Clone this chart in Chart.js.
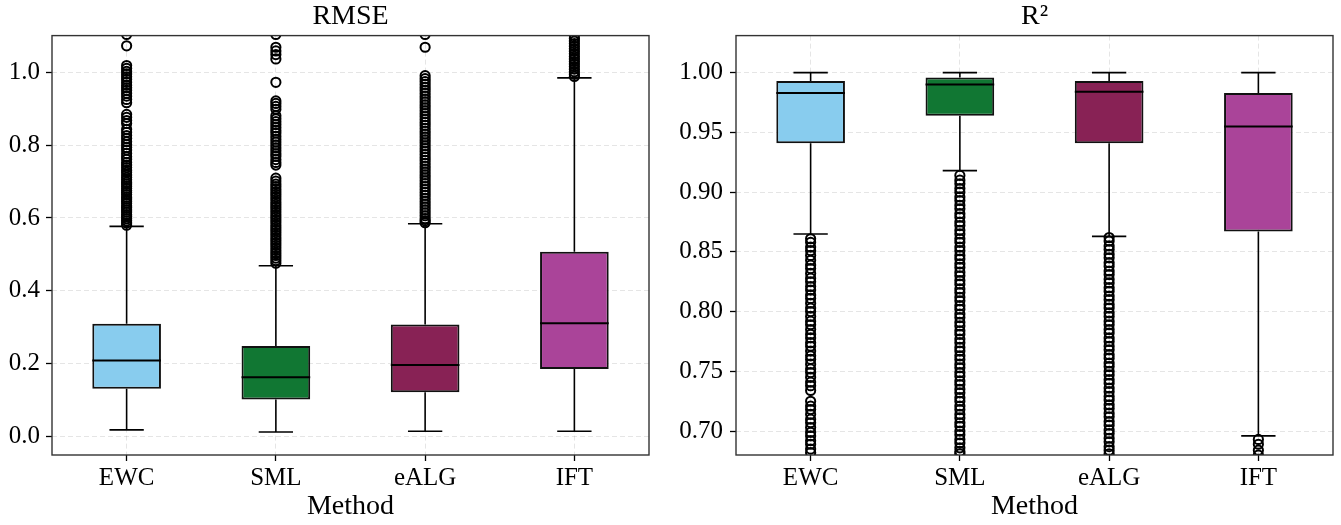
<!DOCTYPE html>
<html>
<head>
<meta charset="utf-8">
<script src="https://cdn.jsdelivr.net/npm/chart.js@4.4.0/dist/chart.umd.min.js"></script>
<style>
  body { margin: 0; background: #fff; }
  #wrap { position: relative; width: 1341px; height: 525px; }
  canvas { position: absolute; top: 0; }
  #rmse { left: 0; }
  #r2 { left: 660px; }
</style>
</head>
<body>
<div id="wrap">
  <canvas id="rmse" width="660" height="525"></canvas>
  <canvas id="r2" width="681" height="525"></canvas>
</div>
<script>
const methods = ['EWC', 'SML', 'eALG', 'IFT'];
const boxColors = ['#88CCEE', '#117733', '#882255', '#AA4499'];

// RMSE box stats
const rmseQ1 = [0.132, 0.102, 0.122, 0.186];
const rmseQ3 = [0.310, 0.249, 0.308, 0.507];
const rmseMedian = [0.209, 0.163, 0.197, 0.311];
const rmseLow = [0.019, 0.013, 0.015, 0.015];
const rmseHigh = [0.577, 0.469, 0.584, 0.984];
const rmseTicks = [0.0, 0.2, 0.4, 0.6, 0.8, 1.0];

const rmseOutEWC = [1.103, 1.072, 1.018, 1.010, 1.002, 0.995, 0.987, 0.980, 0.972, 0.964, 0.957, 0.950, 0.942, 0.934, 0.925, 0.916,
  0.884, 0.876, 0.867, 0.859, 0.843, 0.835, 0.826, 0.818, 0.809, 0.801, 0.793, 0.786, 0.777, 0.768, 0.761, 0.752, 0.745, 0.738,
  0.731, 0.725, 0.718, 0.711, 0.705, 0.698, 0.693, 0.687, 0.681, 0.675, 0.670, 0.664, 0.657, 0.652, 0.646, 0.640, 0.633, 0.628,
  0.622, 0.616, 0.609, 0.604, 0.598, 0.592, 0.586, 0.580];
const rmseOutSML = [1.103, 1.068, 1.058, 1.048, 1.036, 0.972, 0.921, 0.914, 0.906, 0.898, 0.880, 0.872, 0.864, 0.856, 0.848,
  0.840, 0.833, 0.824, 0.816, 0.808, 0.800, 0.792, 0.784, 0.776, 0.769, 0.760, 0.752, 0.745, 0.709, 0.701, 0.693, 0.686, 0.679,
  0.672, 0.665, 0.658, 0.651, 0.644, 0.637, 0.630, 0.623, 0.616, 0.609, 0.602, 0.595, 0.588, 0.581, 0.574, 0.567, 0.560, 0.553,
  0.546, 0.539, 0.532, 0.525, 0.518, 0.511, 0.504, 0.497, 0.490, 0.483, 0.476];
const rmseOutEALG = [1.103, 1.068, 0.990, 0.982, 0.974, 0.966, 0.958, 0.950, 0.942, 0.934, 0.926, 0.918, 0.910, 0.902, 0.894,
  0.886, 0.878, 0.870, 0.862, 0.854, 0.846, 0.838, 0.830, 0.822, 0.814, 0.806, 0.798, 0.790, 0.782, 0.774, 0.766, 0.758, 0.750,
  0.742, 0.734, 0.726, 0.718, 0.710, 0.702, 0.694, 0.686, 0.678, 0.670, 0.662, 0.654, 0.646, 0.638, 0.630, 0.622, 0.614, 0.606,
  0.598, 0.592, 0.587];
const rmseOutIFT = [1.100, 1.092, 1.085, 1.078, 1.071, 1.064, 1.057, 1.050, 1.043, 1.036, 1.029, 1.022, 1.015, 1.008, 1.001,
  0.994, 0.988];

// R² box stats
const r2Q1 = [0.941, 0.964, 0.941, 0.867];
const r2Q3 = [0.993, 0.996, 0.993, 0.983];
const r2Median = [0.983, 0.990, 0.984, 0.955];
const r2Low = [0.865, 0.918, 0.863, 0.696];
const r2High = [1.000, 1.000, 1.000, 1.000];
const r2Ticks = [0.70, 0.75, 0.80, 0.85, 0.90, 0.95, 1.00];

const r2OutEWC = [0.861, 0.858, 0.854, 0.851, 0.847, 0.843, 0.839, 0.836, 0.832, 0.828, 0.825, 0.821, 0.818, 0.814, 0.811,
  0.807, 0.803, 0.800, 0.796, 0.792, 0.789, 0.785, 0.781, 0.778, 0.774, 0.771, 0.767, 0.763, 0.760, 0.756, 0.752, 0.749, 0.745,
  0.741, 0.738, 0.734, 0.725, 0.721, 0.718, 0.714, 0.710, 0.707, 0.703, 0.699, 0.696, 0.692, 0.689, 0.685, 0.682];
const r2OutSML = [0.914, 0.910, 0.907, 0.903, 0.900, 0.896, 0.893, 0.889, 0.886, 0.882, 0.879, 0.875, 0.872, 0.868, 0.865,
  0.861, 0.858, 0.854, 0.851, 0.847, 0.844, 0.840, 0.837, 0.833, 0.830, 0.826, 0.823, 0.819, 0.816, 0.812, 0.809, 0.805, 0.802,
  0.798, 0.795, 0.791, 0.788, 0.784, 0.781, 0.777, 0.774, 0.770, 0.767, 0.763, 0.760, 0.756, 0.753, 0.749, 0.746, 0.742, 0.739,
  0.735, 0.732, 0.728, 0.725, 0.721, 0.718, 0.714, 0.711, 0.707, 0.704, 0.700, 0.697, 0.693, 0.690, 0.686, 0.683, 0.681];
const r2OutEALG = [0.862, 0.859, 0.855, 0.852, 0.848, 0.845, 0.841, 0.838, 0.834, 0.831, 0.827, 0.824, 0.820, 0.817, 0.813,
  0.810, 0.806, 0.803, 0.799, 0.796, 0.792, 0.789, 0.785, 0.782, 0.778, 0.775, 0.771, 0.768, 0.764, 0.761, 0.757, 0.754, 0.750,
  0.747, 0.743, 0.740, 0.736, 0.733, 0.729, 0.726, 0.722, 0.719, 0.715, 0.712, 0.708, 0.705, 0.701, 0.698, 0.694, 0.691, 0.687,
  0.684, 0.681];
const r2OutIFT = [0.693, 0.689, 0.684, 0.680];

Chart.defaults.font.family = "'Liberation Serif', 'Times New Roman', serif";
Chart.defaults.color = '#000';

// whiskers, caps and medians go on top of the boxes; frame after everything
const boxWhiskers = {
  id: 'boxWhiskers',
  afterDatasetDraw(chart, args, o) {
    if (args.meta.type !== 'bar') return;
    const ctx = chart.ctx, area = chart.chartArea, ys = chart.scales.y;
    ctx.save();
    ctx.beginPath();
    ctx.rect(area.left, area.top, area.right - area.left, area.bottom - area.top);
    ctx.clip();
    ctx.strokeStyle = '#000';
    args.meta.data.forEach((bar, i) => {
      const cx = bar.x, half = bar.width / 2, cap = half / 2;
      const yq1 = ys.getPixelForValue(o.q1[i]);
      const yq3 = ys.getPixelForValue(o.q3[i]);
      const ylo = ys.getPixelForValue(o.low[i]);
      const yhi = ys.getPixelForValue(o.high[i]);
      const ymed = ys.getPixelForValue(o.median[i]);
      ctx.lineWidth = 1.6;
      ctx.beginPath();
      ctx.moveTo(cx, yq1); ctx.lineTo(cx, ylo);
      ctx.moveTo(cx, yq3); ctx.lineTo(cx, yhi);
      ctx.moveTo(cx - cap, ylo); ctx.lineTo(cx + cap, ylo);
      ctx.moveTo(cx - cap, yhi); ctx.lineTo(cx + cap, yhi);
      ctx.stroke();
      ctx.lineWidth = 2;
      ctx.beginPath();
      ctx.moveTo(cx - half, ymed); ctx.lineTo(cx + half, ymed);
      ctx.stroke();
    });
    ctx.restore();
  },
  afterDraw(chart) {
    const ctx = chart.ctx, a = chart.chartArea;
    ctx.save();
    ctx.strokeStyle = '#333';
    ctx.lineWidth = 1.4;
    ctx.strokeRect(a.left, a.top, a.right - a.left, a.bottom - a.top);
    ctx.restore();
  }
};

function boxChart(id, cfg) {
  const outliers = methods.flatMap((m, i) => cfg.out[i].map(v => ({x: m, y: v})));
  return new Chart(document.getElementById(id), {
    type: 'bar',
    data: {
      labels: methods,
      datasets: [{
        type: 'bar',
        data: cfg.q1.map((v, i) => [v, cfg.q3[i]]),
        backgroundColor: boxColors,
        borderColor: '#111',
        borderWidth: 2,
        borderSkipped: false,
        categoryPercentage: 1,
        barPercentage: 0.46,
        order: 2
      }, {
        type: 'line',
        data: outliers,
        showLine: false,
        pointRadius: 4.6,
        pointBorderWidth: 2,
        pointBorderColor: '#000',
        pointBackgroundColor: 'rgba(0,0,0,0)',
        clip: 0,
        order: 1
      }]
    },
    options: {
      responsive: false,
      animation: false,
      events: [],
      layout: {padding: {left: 0, right: cfg.padRight, top: 0, bottom: 0}},
      plugins: {
        legend: {display: false},
        tooltip: {enabled: false},
        title: {
          display: true, text: cfg.title, fullSize: false,
          font: {size: 28, weight: 'normal'}, color: '#000',
          padding: {top: 0, bottom: 2}
        },
        boxWhiskers: {q1: cfg.q1, q3: cfg.q3, median: cfg.median, low: cfg.low, high: cfg.high}
      },
      scales: {
        x: {
          type: 'category',
          offset: true,
          afterFit: s => { s.height = 70; },
          title: {display: true, text: 'Method', font: {size: 28}, padding: {top: 0, bottom: 2}},
          ticks: {font: {size: 25}, padding: 2},
          grid: {offset: false, color: 'rgba(0,0,0,0.1)', lineWidth: 1,
                 tickColor: '#000', tickLength: 6, tickWidth: 1.3, tickBorderDash: []},
          border: {display: false, dash: [5, 3]}
        },
        y: {
          type: 'linear',
          min: cfg.min, max: cfg.max,
          afterFit: s => { s.width = cfg.axisWidth; },
          afterBuildTicks: s => { s.ticks = cfg.ticks.map(v => ({value: v})); },
          ticks: {font: {size: 25}, padding: cfg.tickPad, callback: v => v.toFixed(cfg.digits)},
          grid: {color: 'rgba(0,0,0,0.1)', lineWidth: 1,
                 tickColor: '#000', tickLength: 6, tickWidth: 1.3, tickBorderDash: []},
          border: {display: false, dash: [5, 3]}
        }
      }
    },
    plugins: [boxWhiskers]
  });
}

boxChart('rmse', {
  title: 'RMSE', q1: rmseQ1, q3: rmseQ3, median: rmseMedian, low: rmseLow, high: rmseHigh,
  out: [rmseOutEWC, rmseOutSML, rmseOutEALG, rmseOutIFT],
  min: -0.05, max: 1.1, ticks: rmseTicks, digits: 1,
  axisWidth: 52, tickPad: 6, padRight: 11
});

boxChart('r2', {
  title: 'R²', q1: r2Q1, q3: r2Q3, median: r2Median, low: r2Low, high: r2High,
  out: [r2OutEWC, r2OutSML, r2OutEALG, r2OutIFT],
  min: 0.68, max: 1.031, ticks: r2Ticks, digits: 2,
  axisWidth: 76, tickPad: 7, padRight: 8
});
</script>
</body>
</html>
